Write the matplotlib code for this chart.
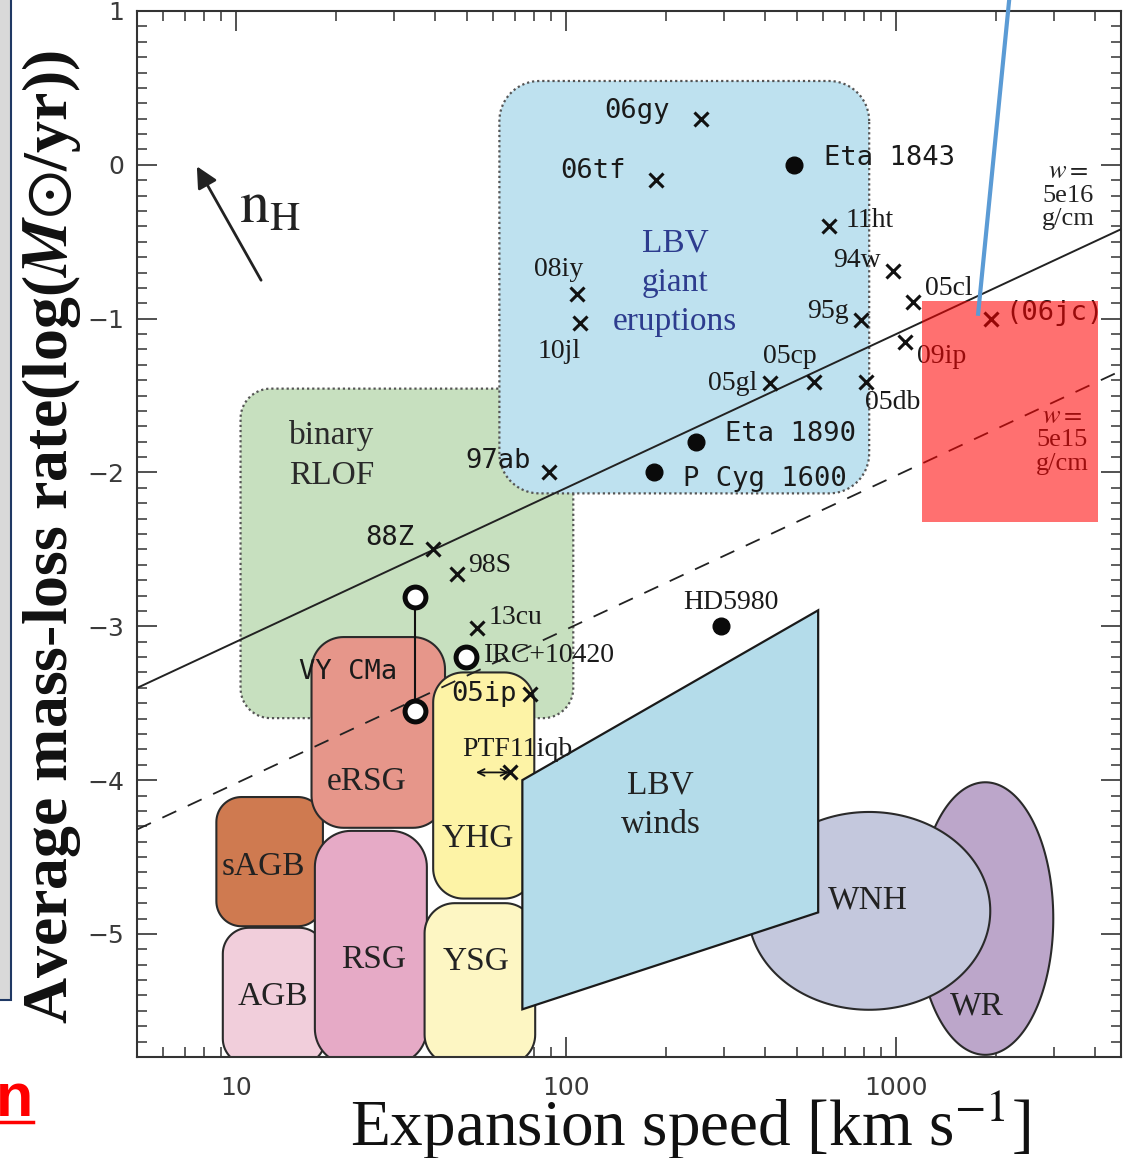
import numpy as np
import matplotlib
matplotlib.use('Agg')
import matplotlib.pyplot as plt
from matplotlib.patches import Polygon, Rectangle
from matplotlib.lines import Line2D
from matplotlib.ticker import LogLocator, MultipleLocator, NullFormatter

plt.rcParams['mathtext.fontset'] = 'stix'

SERIF = ['Liberation Serif', 'DejaVu Serif']
MONO = ['DejaVu Sans Mono']
FONTS = {'serif': SERIF, 'mono': MONO}

###     Data (speed in km/s, log mass-loss rate)

X_LIM = (5, 4800)
Y_LIM = (-5.8, 1.0)

# crosses (transients)
cross_names = ['06gy', '06tf', '11ht', '94w', '05cl', '(06jc)', '95g', '09ip', '08iy', '10jl',
               '05cp', '05gl', '05db', '97ab', '88Z', '98S', '13cu', '05ip', 'PTF11iqb']
cross_v = [256, 187, 627, 980, 1127, 1941, 784, 1064, 108, 110,
           565, 415, 811, 88.7, 39.5, 46.8, 53.7, 77.8, 67.6]
cross_m = [0.30, -0.10, -0.40, -0.69, -0.89, -1.00, -1.01, -1.15, -0.84, -1.03,
           -1.41, -1.42, -1.41, -2.00, -2.50, -2.66, -3.01, -3.44, -3.95]
cross_font = ['mono', 'mono', 'serif', 'serif', 'serif', 'mono', 'serif', 'serif', 'serif', 'serif',
              'serif', 'serif', 'serif', 'mono', 'mono', 'serif', 'serif', 'mono', 'serif']
cross_dx = [-31, -30, 16, -13, 12, 14, -13, 12, -19, -21, -25, -13, -1, -18, -19, 11, 11, -14, 7]
cross_dy = [8, 9, 6, 10, 13, 6, 9, -15, 25, -28, 25, 0, -21, 11, 11, 8, 10, 0, 23]
cross_ha = ['right', 'right', 'left', 'right', 'left', 'left', 'right', 'left', 'center', 'center',
            'center', 'right', 'left', 'right', 'right', 'left', 'left', 'right', 'center']

# filled circles
dot_names = ['Eta 1843', 'Eta 1890', 'P Cyg 1600', 'HD5980']
dot_v = [491, 248, 185, 295]
dot_m = [0.00, -1.80, -2.00, -3.00]
dot_font = ['mono', 'mono', 'mono', 'serif']
dot_dx = [30, 29, 29, 10]
dot_dy = [7, 8, -7, 24]
dot_ha = ['left', 'left', 'left', 'center']

# open circles (VY CMa pair, IRC+10420)
ring_v = [34.8, 34.8, 49.8]
ring_m = [-2.81, -3.55, -3.20]
vycma_v = [34.8, 34.8]
vycma_m = [-2.81, -3.55]

# PTF11iqb speed range
ptf_v = [52.2, 68.5]
ptf_m = -3.95

# constant-w lines: log Mdot = log v + c
w_labels = ['5e16', '5e15']
w_offset = [-4.10, -5.02]
w_lab_v = [3319, 3186]
w_lab_m = [-0.20, -1.79]

# rounded regions: name, v0, v1, m0, m1, colour, corner px, dotted
region_names = ['binary RLOF', 'LBV giant', 'AGB', 'sAGB', 'RSG', 'eRSG', 'YSG', 'YHG']
region_v0 = [10.3, 62.7, 9.1, 8.7, 17.3, 16.9, 37.2, 39.5]
region_v1 = [105, 828, 18.6, 18.3, 37.8, 42.9, 80.5, 80.0]
region_m0 = [-3.597, -2.136, -5.85, -4.95, -5.85, -4.31, -5.85, -4.77]
region_m1 = [-1.455, 0.545, -4.96, -4.11, -4.33, -3.07, -4.80, -3.30]
region_col = ['#C7E0BF', '#BEE1EF', '#F1CEDB', '#CF7A50', '#E6AAC6', '#E6968A', '#FDF6C3', '#FDF3A6']
region_r = [30, 40, 26, 25, 36, 32, 30, 30]
region_dotted = [True, True, False, False, False, False, False, False]

# LBV winds quadrilateral
lbvw_v = [73.6, 580, 580, 73.6]
lbvw_m = [-4.00, -2.896, -4.86, -5.49]

# ellipses in (log v, m): centre, semi-axis in decades, semi-axis in dex
ell_names = ['WR', 'WNH']
ell_v = [1862, 828]
ell_m = [-4.90, -4.85]
ell_adec = [0.206, 0.367]
ell_bdex = [0.886, 0.643]
ell_col = ['#BCA6CA', '#C4C8DD']

# region labels
lab_text = ['LBV\ngiant\neruptions', 'binary\nRLOF', 'eRSG', 'YHG', 'sAGB', 'AGB', 'RSG', 'YSG',
            'LBV\nwinds', 'WNH', 'WR']
lab_v = [214, 19.4, 24.9, 54.1, 12.1, 12.9, 26.0, 53.4, 193, 822, 1758]
lab_m = [-0.766, -1.89, -4.01, -4.38, -4.56, -5.41, -5.17, -5.18, -4.16, -4.78, -5.47]
lab_col = ['#2D3C8E', '#2A2A2A'] + ['#222222'] * 9

# overlays added on top of the figure
red_box_v = [1199, 4093]
red_box_m = [-2.325, -0.883]
blue_line_v = [2198, 1771]
blue_line_m = [1.065, -0.968]

W, H = 1135, 1158
AX_L, AX_R, AX_T, AX_B = 137, 1121, 11, 1057

fig = plt.figure(figsize=(W / 100, H / 100), dpi=100)
ax = fig.add_axes([AX_L / W, 1 - AX_B / H, (AX_R - AX_L) / W, (AX_B - AX_T) / H])
ax.set_xscale('log')
ax.set_xlim(*X_LIM)
ax.set_ylim(*Y_LIM)

px_dec = (AX_R - AX_L) / np.log10(X_LIM[1] / X_LIM[0])
px_unit = (AX_B - AX_T) / (Y_LIM[1] - Y_LIM[0])


def rounded_box(v0, v1, m0, m1, r):
    """ rounded rectangle, corner radius r in pixels, on the log axis """
    l0, l1 = np.log10(v0), np.log10(v1)
    rx, ry = r / px_dec, r / px_unit
    t = np.linspace(0, np.pi / 2, 20)
    pts = []
    for cx, cy, a0 in [(l1 - rx, m1 - ry, 0), (l0 + rx, m1 - ry, np.pi / 2),
                       (l0 + rx, m0 + ry, np.pi), (l1 - rx, m0 + ry, 1.5 * np.pi)]:
        a = a0 + t
        pts += list(zip(10 ** (cx + rx * np.cos(a)), cy + ry * np.sin(a)))
    return np.array(pts)


def ellipse_pts(vc, mc, adec, bdex):
    t = np.linspace(0, 2 * np.pi, 200)
    return np.column_stack([10 ** (np.log10(vc) + adec * np.cos(t)), mc + bdex * np.sin(t)])


###     Regions

for i in range(len(region_names)):
    pts = rounded_box(region_v0[i], region_v1[i], region_m0[i], region_m1[i], region_r[i])
    if region_dotted[i]:
        poly = Polygon(pts, closed=True, facecolor=region_col[i], edgecolor='#555555',
                       lw=1.6, linestyle=(0, (1, 1.3)), zorder=1)
    else:
        poly = Polygon(pts, closed=True, facecolor=region_col[i], edgecolor='#2a2a2a',
                       lw=1.5, zorder=2)
    ax.add_patch(poly)

for i in range(len(ell_names)):
    ax.add_patch(Polygon(ellipse_pts(ell_v[i], ell_m[i], ell_adec[i], ell_bdex[i]), closed=True,
                         facecolor=ell_col[i], edgecolor='#2a2a2a', lw=1.5, zorder=2))

ax.add_patch(Polygon(np.column_stack([lbvw_v, lbvw_m]), closed=True, facecolor='#B4DCEA',
                     edgecolor='#1a1a1a', lw=1.6, zorder=2))

for i in range(len(lab_text)):
    ax.text(lab_v[i], lab_m[i], lab_text[i], family=SERIF, fontsize=24, color=lab_col[i],
            ha='center', va='center', linespacing=1.38, zorder=6)

###     constant-w lines

v_line = np.array(X_LIM)
ax.plot(v_line, np.log10(v_line) + w_offset[0], color='#222222', lw=1.4, zorder=4)
ax.plot(v_line, np.log10(v_line) + w_offset[1], color='#222222', lw=1.3,
        linestyle=(0, (8.5, 7)), zorder=4)
for i in range(len(w_labels)):
    ax.text(w_lab_v[i], w_lab_m[i], '$w=$\n' + w_labels[i] + '\ng/cm', family=SERIF, fontsize=19,
            ha='center', va='center', linespacing=1.08, color='#222222', zorder=6)

###     Points

ax.plot(vycma_v, vycma_m, color='#111111', lw=1.5, zorder=4)
ax.annotate('', xy=(ptf_v[0], ptf_m), xytext=(ptf_v[1], ptf_m),
            arrowprops=dict(arrowstyle='<->', lw=1.3, color='#111111', mutation_scale=12), zorder=5)

ax.plot(cross_v, cross_m, 'x', color='#111111', ms=10, mew=2.2, zorder=5)
ax.plot(dot_v, dot_m, 'o', color='#0a0a0a', ms=12, zorder=5)
ax.plot(ring_v, ring_m, 'o', mfc='white', mec='#0a0a0a', ms=15, mew=3.6, zorder=5)

for i, name in enumerate(cross_names):
    ax.annotate(name, (cross_v[i], cross_m[i]), xytext=(cross_dx[i], cross_dy[i]),
                textcoords='offset pixels', ha=cross_ha[i], va='center',
                family=FONTS[cross_font[i]], fontsize=19.5 if cross_font[i] == 'mono' else 20,
                color='#1a1a1a', zorder=6)
for i, name in enumerate(dot_names):
    ax.annotate(name, (dot_v[i], dot_m[i]), xytext=(dot_dx[i], dot_dy[i]),
                textcoords='offset pixels', ha=dot_ha[i], va='center',
                family=FONTS[dot_font[i]], fontsize=19.5 if dot_font[i] == 'mono' else 20,
                color='#1a1a1a', zorder=6)
ax.annotate('IRC+10420', (ring_v[2], ring_m[2]), xytext=(18, 2), textcoords='offset pixels',
            ha='left', va='center', family=SERIF, fontsize=20, color='#1a1a1a', zorder=6)
ax.text(21.8, -3.30, 'VY CMa', family=MONO, fontsize=19.5, ha='center', va='center',
        color='#1a1a1a', zorder=6)

# n_H arrow
ax.annotate('', xy=(7.52, 0.006), xytext=(12.0, -0.766),
            arrowprops=dict(arrowstyle='-|>', lw=2, color='#222222', mutation_scale=32), zorder=5)
ax.text(12.7, -0.27, r'$\mathrm{n}_{\mathrm{H}}$', fontsize=43, ha='center', va='center',
        color='#222222', zorder=6)

###     Overlays

ax.add_patch(Rectangle((red_box_v[0], red_box_m[0]), red_box_v[1] - red_box_v[0],
                       red_box_m[1] - red_box_m[0], facecolor='red', alpha=0.56, lw=0, zorder=8))
ax.plot(blue_line_v, blue_line_m, color='#5B9BD5', lw=3, clip_on=False, zorder=9)

###     Axes styling

for s in ax.spines.values():
    s.set_linewidth(1.5)
    s.set_color('#333333')
ax.set_xticks([10, 100, 1000], labels=['10', '100', '1000'])
ax.xaxis.set_minor_locator(LogLocator(base=10, subs=np.arange(2, 10)))
ax.xaxis.set_minor_formatter(NullFormatter())
ax.set_yticks(np.arange(-5, 2, 1))
ax.yaxis.set_minor_locator(MultipleLocator(0.1))
ax.tick_params(which='both', direction='in', top=True, right=True, color='#333333')
ax.tick_params(which='major', length=14.5, width=1.2, labelsize=18, labelcolor='#3a3a3a')
ax.tick_params(which='minor', length=7.2, width=1.1)
ax.tick_params(axis='x', which='major', pad=14)
ax.tick_params(axis='y', which='major', pad=9)

fig.text(52 / W, 1 - 537 / H, r'Average mass-loss rate(log($\mathbfit{M}{\odot}$/yr))',
         rotation=90, ha='center', va='center', fontsize=46, fontweight='bold',
         family='Liberation Serif', color='#111111')
fig.text(690 / W, 1 - 1125 / H, r'Expansion speed [km s$^{-1}$]', ha='center', va='center',
         fontsize=47, family='Liberation Serif', color='#111111')

# slide decorations at the left edge
fig.add_artist(Rectangle((-0.01, 1 - 1000 / H), 11 / W + 0.01, 1000 / H + 0.01,
                         transform=fig.transFigure, facecolor='#D9D9D9', edgecolor='#1F3864', lw=1.5))
fig.text(33 / W, 1 - 1100 / H, 'n', color='red', fontsize=44, fontweight='bold',
         family='Liberation Sans', ha='right', va='center')
fig.add_artist(Line2D([0, 33 / W], [1 - 1122 / H] * 2, color='red', lw=2.5,
                      transform=fig.transFigure))

fig.savefig('out.png', dpi=100)
